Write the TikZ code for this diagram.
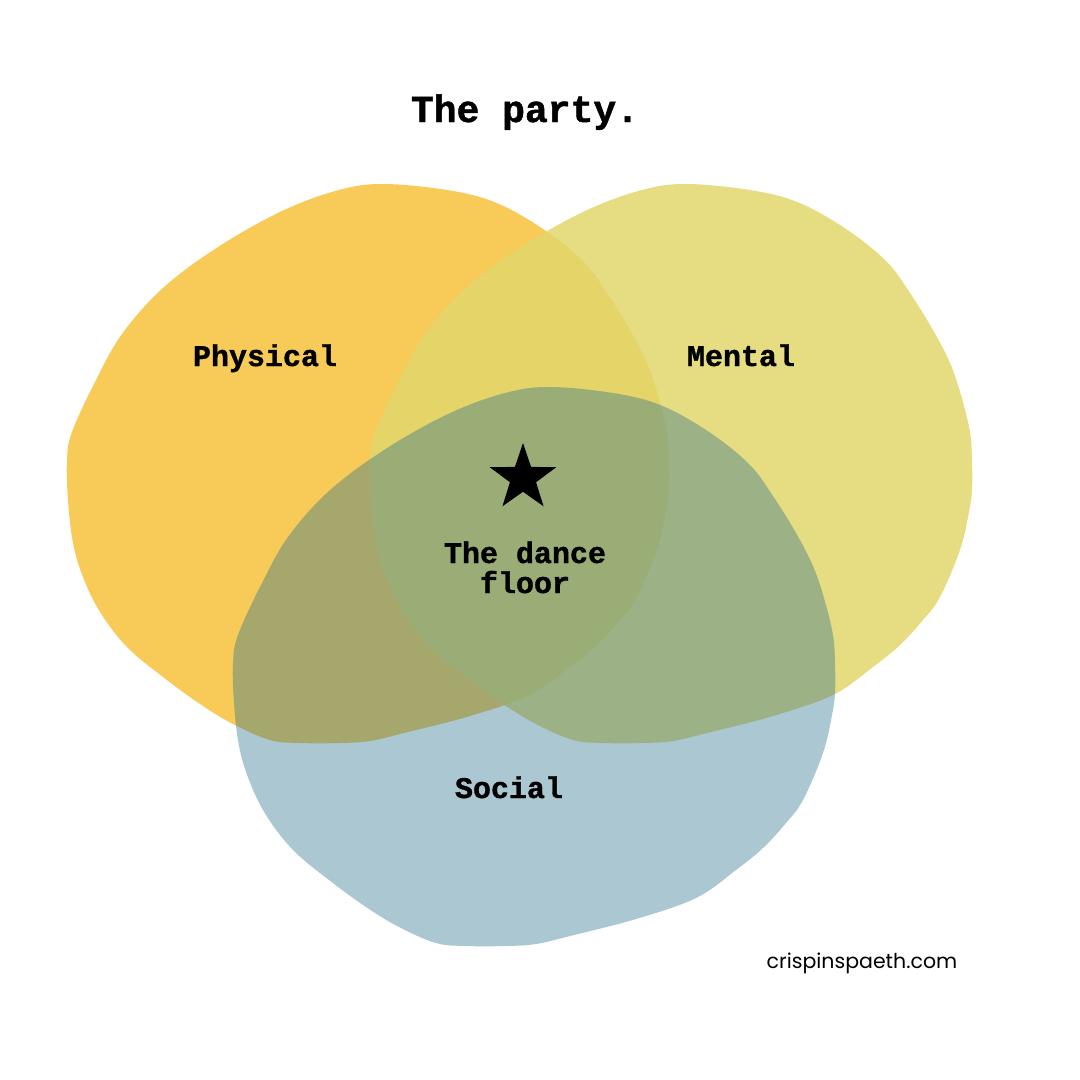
\documentclass[tikz,border=0pt]{standalone}
\usepackage{fontspec}
\setmonofont[BoldFeatures={FakeBold=1.2}]{Liberation Mono}
\newfontfamily\urlfont{Poppins}
\usetikzlibrary{shapes.geometric}
\definecolor{physcol}{RGB}{248,202,88}
\definecolor{mentcol}{RGB}{226,216,109}
\definecolor{soccol}{RGB}{45,115,140}
\newcommand\blobshape[1]{\fill[#1] plot[smooth cycle,tension=0.6] coordinates {
(385,184) (453,191) (499,204) (546,231) (584,262) (607,293) (630,330) (647,363) (658,395) (667,432) (669,460) (669,490) (666,512) (657,550) (637,597) (620,620) (597,645) (570,667) (530,695) (470,716) (404,733) (370,741) (340,743) (300,743) (270,740) (233,724) (200,704) (163,677) (127,647) (100,612) (83,577) (73,543) (68,500) (67,460) (72,432) (95,382) (122,334) (163,288) (218,247) (282,211) (339,190)};}
\tikzset{
  lbl/.style={anchor=base, font=\ttfamily\bfseries\fontsize{30}{34}\selectfont, inner sep=0pt},
  ttl/.style={anchor=base, font=\ttfamily\bfseries\fontsize{38}{44}\selectfont, inner sep=0pt},
}
\begin{document}
\begin{tikzpicture}[x=1pt,y=-1pt]
\useasboundingbox[fill=white] (0,0) rectangle (1080,1080);
\blobshape{physcol}
\begin{scope}[shift={(303,0)}]
\blobshape{mentcol, fill opacity=0.85}
\end{scope}
\begin{scope}[shift={(166,203)}]
\blobshape{soccol, fill opacity=0.4}
\end{scope}
\node[ttl] (title) at (525,122) {The party.};
\node[lbl] (physical) at (265,366) {Physical};
\node[lbl] (mental) at (741,366) {Mental};
\node[lbl] (social) at (509,798) {Social};
\node[lbl] (dance1) at (525,563) {The dance};
\node[lbl] (dance2) at (525,593) {floor};
\node[star, star points=5, star point ratio=2.55, fill=black, minimum size=70pt, inner sep=0pt] (star) at (523,478) {};
\node[anchor=base, font=\urlfont\fontsize{20.5}{24}\selectfont, inner sep=0pt] (url) at (862,968) {crispinspaeth.com};
\end{tikzpicture}
\end{document}
